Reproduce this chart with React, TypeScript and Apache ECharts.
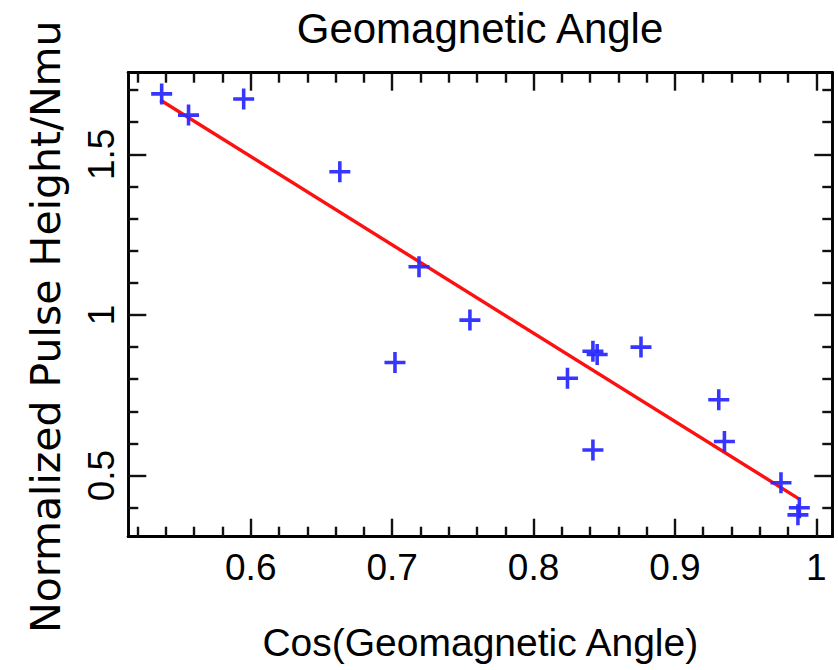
import React, { useEffect, useRef } from "react";
import * as echarts from "echarts";

// Scatter points
const pointsX = [0.537, 0.556, 0.595, 0.663, 0.719, 0.755, 0.702, 0.824, 0.842, 0.845, 0.842, 0.876, 0.931, 0.935, 0.975, 0.988, 0.987];
const pointsY = [1.688, 1.622, 1.672, 1.446, 1.15, 0.984, 0.852, 0.803, 0.887, 0.877, 0.58, 0.9, 0.736, 0.606, 0.478, 0.4, 0.378];

// Fitted line end points
const fitX = [0.536, 0.988];
const fitY = [1.669, 0.427];

// Axis ranges and ticks
const xRange = [0.5134, 1.0113];
const yRange = [0.31, 1.754];
const xMajorTicks = [0.6, 0.7, 0.8, 0.9, 1.0];
const xMinorTicks = [0.52, 0.54, 0.56, 0.58, 0.62, 0.64, 0.66, 0.68, 0.72, 0.74, 0.76, 0.78, 0.82, 0.84, 0.86, 0.88, 0.92, 0.94, 0.96, 0.98];
const yMajorTicks = [0.5, 1.0, 1.5];
const yMinorTicks = [0.4, 0.6, 0.7, 0.8, 0.9, 1.1, 1.2, 1.3, 1.4, 1.6, 1.7];

const titleText = "Geomagnetic Angle";
const xTitle = "Cos(Geomagnetic Angle)";
const yTitle = "Normalized Pulse Height/Nmu";

const FONT = "'Liberation Sans', Arial, Helvetica, sans-serif";
const WIDE_FONT = "'DejaVu Sans', 'Liberation Sans', sans-serif";
const PLUS = "path://M-1.7,-10 L1.7,-10 L1.7,-1.7 L10,-1.7 L10,1.7 L1.7,1.7 L1.7,10 L-1.7,10 L-1.7,1.7 L-10,1.7 L-10,-1.7 L-1.7,-1.7 Z";

function makeAxis(kind: "x" | "y", position: string, major: boolean, withLabels: boolean, extra: any = {}) {
  const range = kind === "x" ? xRange : yRange;
  const ticks = kind === "x" ? (major ? xMajorTicks : xMinorTicks) : (major ? yMajorTicks : yMinorTicks);
  return {
    type: "value",
    position,
    min: range[0],
    max: range[1],
    offset: 0,
    axisLine: { show: true, onZero: false, lineStyle: { color: "#000", width: kind === "x" ? 3 : 2.6 } },
    axisTick: {
      show: true,
      inside: true,
      length: major ? 18 : 10,
      customValues: ticks,
      lineStyle: { color: "#111", width: 2.4 },
    },
    axisLabel: withLabels
      ? {
          show: true,
          customValues: major ? ticks : [],
          color: "#000",
          fontFamily: FONT,
          fontSize: 37,
          formatter: (v: number) => String(Math.round(v * 100) / 100),
          ...(kind === "y" ? { rotate: 90, margin: 8 } : { margin: 12 }),
        }
      : { show: false },
    splitLine: { show: false },
    ...extra,
  };
}

export default function App() {
  const ref = useRef<HTMLDivElement>(null);
  useEffect(() => {
    document.body.style.margin = "0";
    const chart = echarts.init(ref.current!, undefined, { renderer: "svg" });
    chart.setOption({
      animation: false,
      backgroundColor: "#fff",
      title: {
        text: titleText,
        left: 480,
        top: 7,
        textAlign: "center",
        padding: 0,
        textStyle: { color: "#000", fontFamily: FONT, fontSize: 42, fontWeight: "normal" },
      },
      grid: { left: 128.3, top: 72.7, right: 5.7, bottom: 133.3, containLabel: false, outerBoundsMode: "none" },
      xAxis: [
        makeAxis("x", "bottom", true, true, {
          name: xTitle,
          nameLocation: "middle",
          nameGap: 86,
          nameTextStyle: { color: "#000", fontFamily: FONT, fontSize: 39 },
        }),
        makeAxis("x", "bottom", false, false),
        makeAxis("x", "top", true, false),
        makeAxis("x", "top", false, false),
      ],
      yAxis: [
        makeAxis("y", "left", true, true, {
          name: yTitle,
          nameLocation: "middle",
          nameRotate: 90,
          nameGap: 62,
          nameTextStyle: { color: "#000", fontFamily: WIDE_FONT, fontSize: 41, padding: [0, 44, 0, 0] },
        }),
        makeAxis("y", "left", false, false),
        makeAxis("y", "right", true, false),
        makeAxis("y", "right", false, false),
      ],
      series: [
        {
          type: "line",
          xAxisIndex: 0,
          yAxisIndex: 0,
          data: fitX.map((x, i) => [x, fitY[i]]),
          symbol: "none",
          lineStyle: { color: "#ff1010", width: 3.4 },
          z: 2,
        },
        {
          type: "scatter",
          xAxisIndex: 0,
          yAxisIndex: 0,
          data: pointsX.map((x, i) => [x, pointsY[i]]),
          symbol: PLUS,
          symbolSize: 21,
          itemStyle: { color: "#2b2bff", opacity: 0.95 },
          z: 3,
        },
      ],
    });
    return () => chart.dispose();
  }, []);
  return <div ref={ref} style={{ width: 838, height: 670 }} />;
}
